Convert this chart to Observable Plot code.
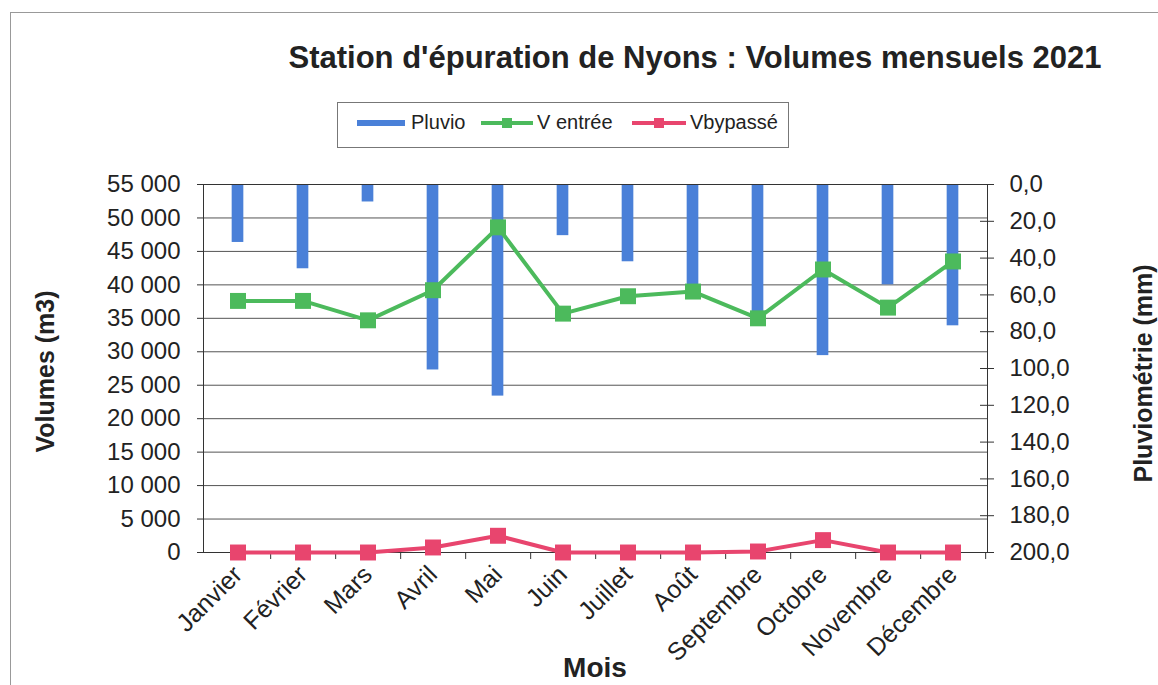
<!DOCTYPE html>
<html><head><meta charset="utf-8">
<script src="https://cdn.jsdelivr.net/npm/d3@7"></script>
<script src="https://cdn.jsdelivr.net/npm/@observablehq/plot@0.6"></script>
<style>
body{margin:0;background:#fff;font-family:"Liberation Sans",Arial,sans-serif;}
#wrap{position:relative;width:1158px;height:685px;overflow:hidden;background:#fff;}
#wrap > svg{position:absolute;left:0;top:0;}
.abs{position:absolute;white-space:nowrap;color:#222;}
#frame{position:absolute;left:10px;top:12px;width:1200px;height:700px;border-top:1px solid #999;border-left:1px solid #999;}
#title{left:0;width:1390px;top:40px;text-align:center;font-weight:bold;font-size:31px;}
#legend{left:337px;top:102px;width:452px;height:46px;border:1px solid #777;box-sizing:border-box;font-size:20px;}
.ylab{font-weight:bold;font-size:25px;transform:rotate(-90deg);transform-origin:center center;}
#mois{left:0;width:1190px;text-align:center;top:652px;font-weight:bold;font-size:28px;}
</style></head>
<body><div id="wrap"><div id="frame"></div></div>
<script>
const months = ["Janvier","Février","Mars","Avril","Mai","Juin","Juillet","Août","Septembre","Octobre","Novembre","Décembre"];
const pluvio = [31.5, 45.8, 9.5, 100.8, 115.0, 27.8, 42.0, 55.0, 72.0, 93.0, 54.5, 76.8];
const vEntree = [37600, 37600, 34700, 39200, 48600, 35700, 38300, 39000, 35000, 42300, 36600, 43500];
const vBypass = [0, 0, 0, 750, 2500, 0, 0, 0, 150, 1850, 0, 0];
const leftTicks = d3.range(0, 55001, 5000);
const rightTicksMm = d3.range(0, 201, 20);

const titleText = "Station d'épuration de Nyons : Volumes mensuels 2021";
const seriesNames = ["Pluvio", "V entrée", "Vbypassé"];
const colors = ["#4a80d8", "#4cba5c", "#e8456e"];

const data = months.map((m, i) => ({month: m, pluvio: pluvio[i], vEntree: vEntree[i], vBypass: vBypass[i]}));
const K = 55000 / 200; // mm -> volume units on shared vertical scale
const mmToY = mm => 55000 - mm * K;
const rightTicks = rightTicksMm.map(mmToY);
const fmtLeft = v => d3.format(",")(v).replace(/,/g, " ");
const fmtRight = v => ((55000 - v) / K).toFixed(1).replace(".", ",");

const W = 1158, H = 685, mL = 203, mR = 171, mT = 184, mB = 133;
const bw = (W - mL - mR) / months.length;
const barW = 12;
const ink = "#333";

const chart = Plot.plot({
  width: W, height: H,
  marginLeft: mL, marginRight: mR, marginTop: mT, marginBottom: mB,
  style: {fontFamily: "'Liberation Sans', Arial, sans-serif", fontSize: "24px", color: "#222", background: "transparent", overflow: "visible"},
  x: {type: "band", domain: months, padding: 0, label: null},
  y: {domain: [0, 55000], label: null},
  marks: [
    Plot.gridY(leftTicks, {stroke: "#555", strokeOpacity: 1, strokeWidth: 1}),
    Plot.barY(data, {x: "month", y1: () => 55000, y2: d => mmToY(d.pluvio), fill: colors[0], insetLeft: (bw - barW) / 2, insetRight: (bw - barW) / 2}),
    Plot.frame({stroke: ink}),
    Plot.axisY(leftTicks, {anchor: "left", tickSize: 6, tickPadding: 17, tickFormat: fmtLeft, label: null, fontSize: 24, stroke: ink}),
    Plot.tickY(rightTicks, {y: d => d, insetLeft: (W - mL - mR) - 7, insetRight: -7, stroke: ink}),
    Plot.axisY(rightTicks, {anchor: "right", tickSize: 0, tickPadding: 22, tickFormat: fmtRight, label: null, fontSize: 24}),
    Plot.ruleX(months, {x: d => d, dx: bw / 2, y1: 0, y2: -1050, stroke: ink}),
    Plot.axisX({tickRotate: -45, tickSize: 0, tickPadding: 18, label: null, fontSize: 25}),
    Plot.line(data, {x: "month", y: "vEntree", stroke: colors[1], strokeWidth: 4}),
    Plot.dot(data, {x: "month", y: "vEntree", symbol: "square", r: 9, fill: colors[1], stroke: "none"}),
    Plot.line(data, {x: "month", y: "vBypass", stroke: colors[2], strokeWidth: 4}),
    Plot.dot(data, {x: "month", y: "vBypass", symbol: "square", r: 9, fill: colors[2], stroke: "none"})
  ]
});
const wrap = document.getElementById("wrap");
wrap.appendChild(chart);

function addDiv(id, cls, html, parent) {
  const d = document.createElement("div");
  if (id) d.id = id;
  d.className = cls;
  d.innerHTML = html;
  (parent || wrap).appendChild(d);
  return d;
}
addDiv("title", "abs", titleText);
addDiv("mois", "abs", "Mois");
const yl = addDiv(null, "abs ylab", "Volumes (m3)");
yl.style.left = "-55px"; yl.style.top = "357px"; yl.style.width = "200px"; yl.style.textAlign = "center";
const yr = addDiv(null, "abs ylab", "Pluviométrie (mm)");
yr.style.left = "1043px"; yr.style.top = "368px"; yr.style.width = "200px"; yr.style.textAlign = "center";

const leg = addDiv("legend", "abs", "");
const sw = [
  `<svg width="48" height="14"><rect x="0" y="4" width="48" height="6" fill="${colors[0]}"/></svg>`,
  `<svg width="52" height="14"><line x1="0" x2="52" y1="7" y2="7" stroke="${colors[1]}" stroke-width="4"/><rect x="21" y="2" width="10" height="10" fill="${colors[1]}"/></svg>`,
  `<svg width="54" height="14"><line x1="0" x2="54" y1="7" y2="7" stroke="${colors[2]}" stroke-width="4"/><rect x="22" y="2" width="10" height="10" fill="${colors[2]}"/></svg>`
];
const swX = [19, 143, 294], txX = [73, 199, 352];
seriesNames.forEach((name, i) => {
  const s = addDiv(null, "abs", sw[i], leg);
  s.style.left = swX[i] + "px"; s.style.top = "13px"; s.style.lineHeight = "0";
  const t = addDiv(null, "abs", name, leg);
  t.style.left = txX[i] + "px"; t.style.top = "8px";
});
</script></body></html>
